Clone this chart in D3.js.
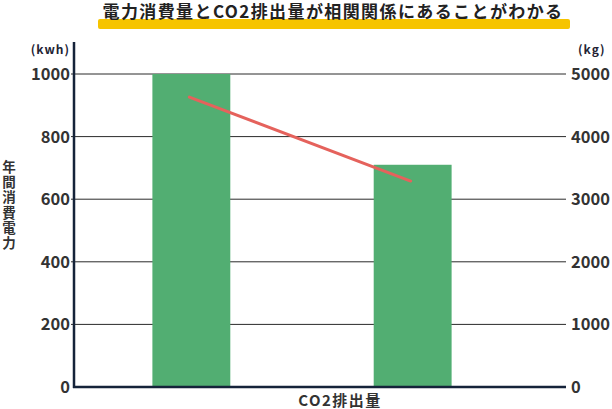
<!DOCTYPE html>
<html>
<head>
<meta charset="utf-8">
<script src="https://cdn.jsdelivr.net/npm/d3@7"></script>
<style>
  body { margin: 0; background: #fff; }
  svg text { font-family: "Noto Sans CJK JP", "Noto Sans", sans-serif; font-weight: 700; }
</style>
</head>
<body>
<svg id="chart"></svg>
<script>
const titleText = '電力消費量とCO2排出量が相関関係にあることがわかる';
const categories = ['A', 'B'];
const powerValues = [1000, 710];       // kwh, bars
const co2Values = [4630, 3290];        // kg, line
const leftTicks = [0, 200, 400, 600, 800, 1000];
const rightTicks = [0, 1000, 2000, 3000, 4000, 5000];
const yLabel = '年間消費電力';
const xLabel = 'CO2排出量';

const W = 612, H = 409;
const plot = { left: 74, right: 566, top: 74, bottom: 387 };

const svg = d3.select('#chart').attr('width', W).attr('height', H);

// title with yellow underline
svg.append('rect')
  .attr('x', 98).attr('y', 19).attr('width', 472).attr('height', 10)
  .attr('rx', 2).attr('fill', '#f6c400');
svg.append('text')
  .attr('x', 333).attr('y', 17.5)
  .attr('text-anchor', 'middle')
  .attr('font-size', 17).attr('letter-spacing', 1.4)
  .attr('fill', '#222')
  .text(titleText);

const x = d3.scaleBand()
  .domain(categories)
  .range([86, 518])
  .paddingInner(0.648)
  .paddingOuter(0.3);

const yL = d3.scaleLinear().domain([0, 1000]).range([plot.bottom, plot.top]);
const yR = d3.scaleLinear().domain([0, 5000]).range([plot.bottom, plot.top]);

// gridlines
svg.append('g')
  .selectAll('line')
  .data(leftTicks.slice(1))
  .enter().append('line')
  .attr('x1', plot.left - 3).attr('x2', plot.right)
  .attr('y1', d => yL(d)).attr('y2', d => yL(d))
  .attr('stroke', '#2a2a2a').attr('stroke-width', 1);

// bars
svg.append('g')
  .selectAll('rect')
  .data(powerValues)
  .enter().append('rect')
  .attr('x', (d, i) => x(categories[i]))
  .attr('y', d => yL(d))
  .attr('width', x.bandwidth())
  .attr('height', d => yL(0) - yL(d))
  .attr('fill', '#52ae72');

// line
const line = d3.line()
  .x((d, i) => x(categories[i]) + x.bandwidth() / 2 - 2)
  .y(d => yR(d));
svg.append('path')
  .datum(co2Values)
  .attr('d', line)
  .attr('fill', 'none')
  .attr('stroke', '#e5625c')
  .attr('stroke-width', 3)
  .attr('stroke-linecap', 'round');

// left axis labels
svg.append('g')
  .selectAll('text')
  .data(leftTicks)
  .enter().append('text')
  .attr('x', plot.left - 4).attr('y', d => yL(d) + 6)
  .attr('text-anchor', 'end')
  .attr('font-size', 16.5)
  .attr('fill', '#333')
  .text(d => d);

// right axis labels
svg.append('g')
  .selectAll('text')
  .data(rightTicks)
  .enter().append('text')
  .attr('x', 571).attr('y', d => yR(d) + 6)
  .attr('text-anchor', 'start')
  .attr('font-size', 16.5)
  .attr('fill', '#333')
  .text(d => d);

// axis lines
svg.append('line')
  .attr('x1', plot.left).attr('x2', plot.left)
  .attr('y1', 42).attr('y2', plot.bottom + 1)
  .attr('stroke', '#15233a').attr('stroke-width', 2.5);
svg.append('line')
  .attr('x1', plot.left - 1).attr('x2', plot.right)
  .attr('y1', plot.bottom).attr('y2', plot.bottom)
  .attr('stroke', '#15233a').attr('stroke-width', 2.5);

// units
svg.append('text')
  .attr('x', 70).attr('y', 54)
  .attr('text-anchor', 'end')
  .attr('font-size', 12).attr('letter-spacing', 1)
  .attr('fill', '#223')
  .text('(kwh)');
svg.append('text')
  .attr('x', 578).attr('y', 54)
  .attr('font-size', 12).attr('letter-spacing', 1)
  .attr('fill', '#223')
  .text('(kg)');

// vertical y label
svg.append('text')
  .attr('x', 9).attr('y', 160)
  .style('writing-mode', 'vertical-rl')
  .attr('font-size', 13.5).attr('letter-spacing', 1.8)
  .attr('fill', '#333')
  .text(yLabel);

// x label
svg.append('text')
  .attr('x', 340).attr('y', 406)
  .attr('text-anchor', 'middle')
  .attr('font-size', 15).attr('letter-spacing', 1.5)
  .attr('fill', '#333')
  .text(xLabel);
</script>
</body>
</html>
